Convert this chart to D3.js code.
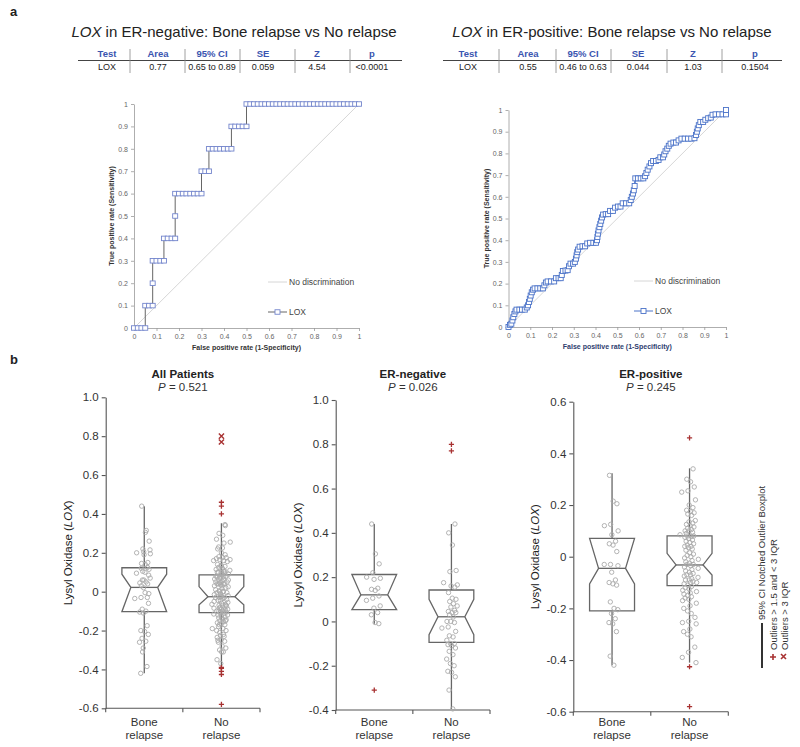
<!DOCTYPE html>
<html><head><meta charset="utf-8">
<script src="https://cdn.jsdelivr.net/npm/d3@7"></script>
<style>body{margin:0;background:#fff}svg{font-family:"Liberation Sans",Arial,sans-serif}</style>
</head><body>
<svg id="c" width="800" height="747"></svg>
<script>
// ---------------- DATA ----------------
const tableHeaders = ["Test", "Area", "95% CI", "SE", "Z", "p"];
const tableNeg = ["LOX", "0.77", "0.65 to 0.89", "0.059", "4.54", "<0.0001"];
const tablePos = ["LOX", "0.55", "0.46 to 0.63", "0.044", "1.03", "0.1504"];

const rocTicks = [0, 0.1, 0.2, 0.3, 0.4, 0.5, 0.6, 0.7, 0.8, 0.9, 1];
const rocTickLabels = ["0", "0.1", "0.2", "0.3", "0.4", "0.5", "0.6", "0.7", "0.8", "0.9", "1"];

// ROC ER-negative: [FPR, TPR]
const rocNeg = [
 [0,0],[0.017,0],[0.033,0],[0.05,0],
 [0.05,0.1],[0.067,0.1],[0.083,0.1],
 [0.083,0.2],
 [0.083,0.3],[0.1,0.3],[0.117,0.3],[0.133,0.3],
 [0.133,0.4],[0.15,0.4],[0.167,0.4],[0.183,0.4],
 [0.183,0.5],
 [0.183,0.6],[0.2,0.6],[0.217,0.6],[0.233,0.6],[0.25,0.6],[0.267,0.6],[0.283,0.6],[0.3,0.6],
 [0.3,0.7],[0.317,0.7],[0.333,0.7],
 [0.333,0.8],[0.35,0.8],[0.367,0.8],[0.383,0.8],[0.4,0.8],[0.417,0.8],[0.433,0.8],
 [0.433,0.9],[0.45,0.9],[0.467,0.9],[0.483,0.9],[0.5,0.9],
 [0.5,1],[0.517,1],[0.533,1],[0.55,1],[0.567,1],[0.583,1],[0.6,1],[0.617,1],[0.633,1],[0.65,1],
 [0.667,1],[0.683,1],[0.7,1],[0.717,1],[0.733,1],[0.75,1],[0.767,1],[0.783,1],[0.8,1],[0.817,1],
 [0.833,1],[0.85,1],[0.867,1],[0.883,1],[0.9,1],[0.917,1],[0.933,1],[0.95,1],[0.967,1],[0.983,1],[1,1]
];

// ROC ER-positive: [FPR, TPR]
const rocPos = [
 [0,0],[0.007,0.01],[0.013,0.015],[0.018,0.03],[0.022,0.045],[0.027,0.06],[0.032,0.072],[0.037,0.08],
 [0.05,0.08],[0.062,0.08],[0.075,0.08],[0.084,0.09],[0.09,0.1],[0.094,0.115],[0.098,0.13],[0.102,0.145],
 [0.107,0.16],[0.113,0.172],[0.12,0.178],[0.133,0.178],[0.146,0.178],[0.158,0.178],[0.165,0.192],[0.172,0.205],
 [0.18,0.21],[0.195,0.21],[0.21,0.21],[0.218,0.225],[0.23,0.225],[0.24,0.225],[0.245,0.24],[0.25,0.258],
 [0.262,0.26],[0.272,0.262],[0.278,0.28],[0.285,0.292],[0.297,0.292],[0.305,0.3],[0.31,0.315],[0.313,0.33],
 [0.316,0.345],[0.32,0.357],[0.327,0.37],[0.34,0.372],[0.352,0.372],[0.362,0.385],[0.375,0.388],[0.39,0.388],
 [0.402,0.388],[0.407,0.4],[0.409,0.415],[0.411,0.43],[0.414,0.445],[0.418,0.46],[0.422,0.475],[0.426,0.49],
 [0.43,0.505],[0.435,0.518],[0.447,0.52],[0.458,0.52],[0.467,0.535],[0.48,0.535],[0.49,0.55],[0.503,0.555],
 [0.515,0.555],[0.525,0.57],[0.54,0.57],[0.555,0.57],[0.562,0.585],[0.567,0.6],[0.572,0.615],[0.576,0.63],
 [0.58,0.65],[0.583,0.685],[0.595,0.685],[0.608,0.685],[0.62,0.685],[0.628,0.695],[0.634,0.71],[0.64,0.725],
 [0.648,0.74],[0.655,0.755],[0.665,0.765],[0.678,0.765],[0.69,0.77],[0.698,0.782],[0.71,0.782],[0.716,0.795],
 [0.722,0.81],[0.73,0.822],[0.737,0.835],[0.745,0.845],[0.758,0.85],[0.77,0.85],[0.782,0.86],[0.795,0.868],
 [0.81,0.868],[0.825,0.868],[0.84,0.868],[0.855,0.87],[0.862,0.885],[0.866,0.9],[0.87,0.915],[0.875,0.93],
 [0.882,0.945],[0.895,0.945],[0.905,0.955],[0.918,0.962],[0.93,0.965],[0.938,0.978],[0.952,0.98],[0.968,0.98],
 [0.984,0.98],[1,0.98],[1,1]
];

const boxCats = ["Bone relapse", "No relapse"];

// LOX expression values per group
const erNegBone = [0.44, 0.305, 0.26, 0.22, 0.2, 0.195, 0.19, 0.15, 0.145, 0.14, 0.115, 0.105, 0.095, 0.07, 0.06, 0.04, 0.03, -0.005, -0.01, -0.31];
const erNegNone = [0.80, 0.77, 0.44, 0.40, 0.345, 0.23, 0.225, 0.175, 0.165, 0.16, 0.155, 0.13, 0.105, 0.1, 0.09, 0.08, 0.07, 0.065, 0.05, 0.045,
  0.04, 0.04, 0.03, 0.02, 0.0, 0.0, -0.005, -0.025, -0.03, -0.045, -0.065, -0.07, -0.085, -0.1, -0.1, -0.105, -0.11, -0.12, -0.135, -0.15,
  -0.17, -0.19, -0.2, -0.225, -0.23, -0.25, -0.31, -0.395];
const erPosBone = [0.315, 0.215, 0.205, 0.125, 0.12, 0.1, 0.085, 0.06, 0.05, 0.045, 0.02, -0.03, -0.03, -0.035, -0.06, -0.09, -0.1, -0.105,
  -0.11, -0.175, -0.2, -0.205, -0.22, -0.24, -0.255, -0.26, -0.29, -0.385, -0.42];
const erPosNone = [0.46, 0.34, 0.30, 0.29, 0.27, 0.255, 0.25, 0.22, 0.2, 0.19, 0.18, 0.175, 0.17, 0.165, 0.16, 0.14, 0.135, 0.13, 0.125, 0.12,
  0.115, 0.11, 0.105, 0.1, 0.1, 0.095, 0.09, 0.085, 0.08, 0.08, 0.078, 0.075, 0.07, 0.065, 0.06, 0.055, 0.05, 0.045, 0.04, 0.04,
  0.035, 0.03, 0.025, 0.015, 0.01, 0.005, 0.0, -0.005, -0.01, -0.015, -0.02, -0.025, -0.03, -0.03, -0.035, -0.04, -0.045, -0.05, -0.055, -0.06,
  -0.065, -0.07, -0.07, -0.075, -0.08, -0.085, -0.09, -0.09, -0.095, -0.1, -0.1, -0.105, -0.11, -0.115, -0.12, -0.125, -0.13, -0.135, -0.14, -0.145,
  -0.15, -0.155, -0.16, -0.165, -0.17, -0.18, -0.19, -0.2, -0.21, -0.22, -0.235, -0.25, -0.255, -0.26, -0.28, -0.29, -0.3, -0.31, -0.35, -0.37,
  -0.39, -0.41, -0.426, -0.58];

// box statistics: [q1, median, q3, notchLo, notchHi, whiskerLo, whiskerHi]
const statsAll = [[-0.103, 0.022, 0.123, -0.103, 0.09, -0.42, 0.44], [-0.108, -0.026, 0.086, -0.068, 0.026, -0.38, 0.352]];
const statsNeg = [[0.053, 0.12, 0.212, 0.053, 0.212, -0.01, 0.44], [-0.095, 0.021, 0.142, -0.06, 0.1, -0.395, 0.44]];
const statsPos = [[-0.21, -0.045, 0.071, -0.105, 0.071, -0.42, 0.323], [-0.112, -0.032, 0.081, -0.071, 0.013, -0.41, 0.342]];

const ticksAll = [-0.6, -0.4, -0.2, 0, 0.2, 0.4, 0.6, 0.8, 1.0];
const labelsAll = ["-0.6", "-0.4", "-0.2", "0", "0.2", "0.4", "0.6", "0.8", "1.0"];
const ticksNeg = [-0.4, -0.2, 0, 0.2, 0.4, 0.6, 0.8, 1.0];
const labelsNeg = ["-0.4", "-0.2", "0", "0.2", "0.4", "0.6", "0.8", "1.0"];
const ticksPos = [-0.6, -0.4, -0.2, 0, 0.2, 0.4, 0.6];
const labelsPos = ["-0.6", "-0.4", "-0.2", "0", "0.2", "0.4", "0.6"];

const panelTitles = ["All Patients", "ER-negative", "ER-positive"];
const panelP = ["0.521", "0.026", "0.245"];

// ---------------- DRAW ----------------
const svg = d3.select("#c");
svg.append("rect").attr("width", 800).attr("height", 747).attr("fill", "#fff");

svg.append("text").attr("x", 10).attr("y", 16).attr("font-size", 13).attr("font-weight", "bold").attr("fill", "#222").text("a");
svg.append("text").attr("x", 10).attr("y", 364).attr("font-size", 13).attr("font-weight", "bold").attr("fill", "#222").text("b");

function drawTable(cx, label, row, colX, sepX, lx0, lx1) {
  const g = svg.append("g");
  const t = g.append("text").attr("x", cx).attr("y", 37).attr("text-anchor", "middle").attr("font-size", 15).attr("fill", "#222");
  t.append("tspan").attr("font-style", "italic").text("LOX");
  t.append("tspan").text(" in " + label + ": Bone relapse vs No relapse");
  g.selectAll(".h").data(tableHeaders).join("text").attr("x", (d, i) => colX[i]).attr("y", 57)
    .attr("text-anchor", "middle").attr("font-size", 9.5).attr("font-weight", "bold").attr("fill", "#3a55b0").text(d => d);
  g.selectAll(".r").data(row).join("text").attr("x", (d, i) => colX[i]).attr("y", 70)
    .attr("text-anchor", "middle").attr("font-size", 9).attr("fill", "#222").text(d => d);
  g.append("line").attr("x1", lx0).attr("x2", lx1).attr("y1", 60.5).attr("y2", 60.5).attr("stroke", "#444").attr("stroke-width", 1);
  g.selectAll(".s").data(sepX).join("line").attr("x1", d => d).attr("x2", d => d).attr("y1", 49).attr("y2", 73)
    .attr("stroke", "#888").attr("stroke-width", 0.8);
}
drawTable(234, "ER-negative", tableNeg, [107, 158, 212, 263, 317, 372], [130, 185, 240, 295, 350], 78, 402);
drawTable(612, "ER-positive", tablePos, [468, 528, 583, 638, 693, 755], [499, 556, 611, 667, 722], 443, 782);

function drawROC(o) {
  const g = svg.append("g");
  const x = d3.scaleLinear().domain([0, 1]).range([o.x0, o.x1]);
  const y = d3.scaleLinear().domain([0, 1]).range([o.y0, o.y1]);
  const ax = g.append("g").attr("transform", `translate(0,${o.y0})`)
    .call(d3.axisBottom(x).tickValues(rocTicks).tickFormat((d, i) => rocTickLabels[i]).tickSize(3).tickSizeOuter(0));
  const ay = g.append("g").attr("transform", `translate(${o.x0},0)`)
    .call(d3.axisLeft(y).tickValues(rocTicks).tickFormat((d, i) => rocTickLabels[i]).tickSize(3).tickSizeOuter(0));
  [ax, ay].forEach(a => {
    a.selectAll("path,line").attr("stroke", "#999").attr("stroke-width", 0.8);
    a.selectAll("text").attr("font-size", 7).attr("fill", "#666").attr("font-family", '"Liberation Sans",Arial,sans-serif');
  });
  g.append("line").attr("x1", x(0)).attr("y1", y(0)).attr("x2", x(1)).attr("y2", y(1)).attr("stroke", "#ccc").attr("stroke-width", 0.8);
  g.append("path").datum(o.data).attr("fill", "none").attr("stroke", o.lineColor).attr("stroke-width", o.lineWidth)
    .attr("d", d3.line().x(d => x(d[0])).y(d => y(d[1])));
  g.selectAll(".m").data(o.data).join("rect")
    .attr("x", d => x(d[0]) - o.mw / 2).attr("y", d => y(d[1]) - o.mh / 2).attr("width", o.mw).attr("height", o.mh)
    .attr("fill", "#fff").attr("stroke", o.markColor).attr("stroke-width", 0.9);
  g.append("text").attr("transform", `translate(${o.ylx},${(o.y0 + o.y1) / 2}) rotate(-90)`).attr("text-anchor", "middle")
    .attr("font-size", 7).attr("font-weight", "bold").attr("fill", "#333").text("True positive rate (Sensitivity)");
  g.append("text").attr("x", (o.x0 + o.x1) / 2).attr("y", o.xly).attr("text-anchor", "middle")
    .attr("font-size", 7).attr("font-weight", "bold").attr("fill", o.xlColor).text("False positive rate (1-Specificity)");
  // legend
  g.append("line").attr("x1", o.lgx).attr("x2", o.lgx + 19).attr("y1", o.lgy1).attr("y2", o.lgy1).attr("stroke", "#ccc").attr("stroke-width", 0.8);
  g.append("text").attr("x", o.lgx + 21).attr("y", o.lgy1 + 3).attr("font-size", 8.5).attr("fill", "#444").text("No discrimination");
  g.append("line").attr("x1", o.lgx).attr("x2", o.lgx + 19).attr("y1", o.lgy2).attr("y2", o.lgy2).attr("stroke", o.lineColor).attr("stroke-width", 1);
  g.append("rect").attr("x", o.lgx + 9.5 - o.mw / 2).attr("y", o.lgy2 - o.mh / 2).attr("width", o.mw).attr("height", o.mh)
    .attr("fill", "#fff").attr("stroke", o.markColor).attr("stroke-width", 0.9);
  g.append("text").attr("x", o.lgx + 21).attr("y", o.lgy2 + 3).attr("font-size", 8.5).attr("fill", "#444").text("LOX");
}
drawROC({ x0: 134, x1: 359, y0: 328, y1: 104, data: rocNeg, lineColor: "#666", lineWidth: 1, markColor: "#7385cc", mw: 5, mh: 4.5,
  ylx: 114, xly: 350, xlColor: "#333", lgx: 268, lgy1: 282, lgy2: 312 });
drawROC({ x0: 508.5, x1: 726, y0: 327, y1: 110, data: rocPos, lineColor: "#4a72c8", lineWidth: 1.6, markColor: "#4a72c8", mw: 5, mh: 5,
  ylx: 489, xly: 349, xlColor: "#2e3d6e", lgx: 634, lgy1: 281, lgy2: 311 });

function jitter(i) {
  return (((i * 0.6180339887) % 1) + ((i * 0.7548776662 + 0.37) % 1) - 1) * 10;
}

function drawBox(o) {
  const g = svg.append("g");
  const x = d3.scaleBand().domain(boxCats).range([o.ax, o.xe]);
  const y = d3.scaleLinear().domain(o.domain).range([o.yb, o.yt]);
  const bw = x.bandwidth() * 0.58;
  // y axis
  const ay = g.append("g").attr("transform", `translate(${o.ax},0)`)
    .call(d3.axisLeft(y).tickValues(o.ticks).tickFormat((d, i) => o.labels[i]).tickSize(4).tickPadding(3).tickSizeOuter(0));
  ay.selectAll("path,line").attr("stroke", "#555").attr("stroke-width", 1.1);
  ay.selectAll("text").attr("font-size", 11.5).attr("fill", "#333").attr("font-family", '"Liberation Sans",Arial,sans-serif');
  // x axis
  const yb = y(o.domain[0]);
  g.append("line").attr("x1", o.ax).attr("x2", o.xe).attr("y1", yb).attr("y2", yb).attr("stroke", "#555").attr("stroke-width", 1.1);
  const bounds = [x(boxCats[0]), x(boxCats[1]), x(boxCats[1]) + x.bandwidth()];
  g.selectAll(".xt").data(bounds).join("line").attr("x1", d => d).attr("x2", d => d).attr("y1", yb).attr("y2", yb + 4)
    .attr("stroke", "#555").attr("stroke-width", 1.1);
  boxCats.forEach(c => {
    const words = c.split(" ");
    const t = g.append("text").attr("text-anchor", "middle").attr("font-size", 11.5).attr("fill", "#333");
    t.append("tspan").attr("x", x(c) + x.bandwidth() / 2).attr("y", 726).text(words[0]);
    t.append("tspan").attr("x", x(c) + x.bandwidth() / 2).attr("y", 739).text(words[1]);
  });
  // title
  const cx = (o.ax + o.xe) / 2;
  g.append("text").attr("x", cx).attr("y", 378).attr("text-anchor", "middle").attr("font-size", 11.5).attr("font-weight", "bold")
    .attr("fill", "#222").text(o.title);
  const pt = g.append("text").attr("x", cx).attr("y", 391).attr("text-anchor", "middle").attr("font-size", 11.5).attr("fill", "#333");
  pt.append("tspan").attr("font-style", "italic").text("P");
  pt.append("tspan").text(" = " + o.p);
  // y label
  const yl = g.append("text").attr("transform", `translate(${o.ylx},${(o.yt + o.yb) / 2}) rotate(-90)`).attr("text-anchor", "middle")
    .attr("font-size", 11.5).attr("fill", "#222");
  yl.append("tspan").text("Lysyl Oxidase (");
  yl.append("tspan").attr("font-style", "italic").text("LOX");
  yl.append("tspan").text(")");

  boxCats.forEach((c, k) => {
    const [q1, med, q3, nLo, nHi, wLo, wHi] = o.stats[k];
    const cxk = x(c) + x.bandwidth() / 2;
    const L = cxk - bw / 2, R = cxk + bw / 2, ind = bw * 0.2;
    const top = Math.min(nHi, q3), bot = Math.max(nLo, q1);
    // whisker
    g.append("line").attr("x1", cxk).attr("x2", cxk).attr("y1", y(wLo)).attr("y2", y(q1)).attr("stroke", "#666").attr("stroke-width", 1.3);
    g.append("line").attr("x1", cxk).attr("x2", cxk).attr("y1", y(q3)).attr("y2", y(wHi)).attr("stroke", "#666").attr("stroke-width", 1.3);
    const pts = [[L, y(q3)], [L, y(top)], [L + ind, y(med)], [L, y(bot)], [L, y(q1)], [R, y(q1)], [R, y(bot)], [R - ind, y(med)], [R, y(top)], [R, y(q3)]];
    g.append("path").attr("d", d3.line()(pts) + "Z").attr("fill", "none").attr("stroke", "#666").attr("stroke-width", 1.3);
    g.append("line").attr("x1", L + ind).attr("x2", R - ind).attr("y1", y(med)).attr("y2", y(med)).attr("stroke", "#666").attr("stroke-width", 1.3);
    const iqr = q3 - q1;
    const vals = o.data[k];
    const inside = vals.filter(v => v >= wLo - 1e-6 && v <= wHi + 1e-6);
    const outs = vals.filter(v => v < wLo - 1e-6 || v > wHi + 1e-6);
    g.selectAll(null).data(inside).join("circle")
      .attr("cx", (v, i) => cxk + jitter(i + 1 + k * 7)).attr("cy", v => y(v)).attr("r", 2.2)
      .attr("fill", "none").attr("stroke", "#aaa").attr("stroke-width", 0.9);
    outs.forEach(v => {
      const ext = v > q3 + 3 * iqr || v < q1 - 3 * iqr;
      const yy = y(v), s = 2.6;
      if (ext) {
        g.append("path").attr("d", `M${cxk - s},${yy - s}L${cxk + s},${yy + s}M${cxk - s},${yy + s}L${cxk + s},${yy - s}`)
          .attr("stroke", "#a83232").attr("stroke-width", 1.4);
      } else {
        g.append("path").attr("d", `M${cxk - s},${yy}L${cxk + s},${yy}M${cxk},${yy - s}L${cxk},${yy + s}`)
          .attr("stroke", "#a83232").attr("stroke-width", 1.3);
      }
    });
  });
}

drawBox({ ax: 105.7, xe: 260, yt: 397.3, yb: 708.3, domain: [-0.6, 1.0], ticks: ticksAll, labels: labelsAll,
  stats: statsAll, data: [erNegBone.concat(erPosBone), erNegNone.concat(erPosNone)], title: panelTitles[0], p: panelP[0], ylx: 72 });
drawBox({ ax: 335.7, xe: 490, yt: 400, yb: 710, domain: [-0.4, 1.0], ticks: ticksNeg, labels: labelsNeg,
  stats: statsNeg, data: [erNegBone, erNegNone], title: panelTitles[1], p: panelP[1], ylx: 302 });
drawBox({ ax: 573.3, xe: 728.3, yt: 401.7, yb: 711.7, domain: [-0.6, 0.6], ticks: ticksPos, labels: labelsPos,
  stats: statsPos, data: [erPosBone, erPosNone], title: panelTitles[2], p: panelP[2], ylx: 539 });

// legend (vertical)
const lg = svg.append("g");
lg.append("line").attr("x1", 762).attr("x2", 762).attr("y1", 623).attr("y2", 668).attr("stroke", "#333").attr("stroke-width", 2);
lg.append("text").attr("transform", "translate(765,620) rotate(-90)").attr("font-size", 9.5).attr("fill", "#333").text("95% CI Notched Outlier Boxplot");
lg.append("text").attr("transform", "translate(776.5,650) rotate(-90)").attr("font-size", 9.5).attr("fill", "#333").text("Outliers > 1.5 and < 3 IQR");
lg.append("text").attr("transform", "translate(787.5,650) rotate(-90)").attr("font-size", 9.5).attr("fill", "#333").text("Outliers > 3 IQR");
lg.append("path").attr("d", "M770,657h6M773,654v6").attr("stroke", "#a83232").attr("stroke-width", 1.6);
lg.append("path").attr("d", "M781,654l5,5M781,659l5,-5").attr("stroke", "#a83232").attr("stroke-width", 1.6);
</script></body></html>
